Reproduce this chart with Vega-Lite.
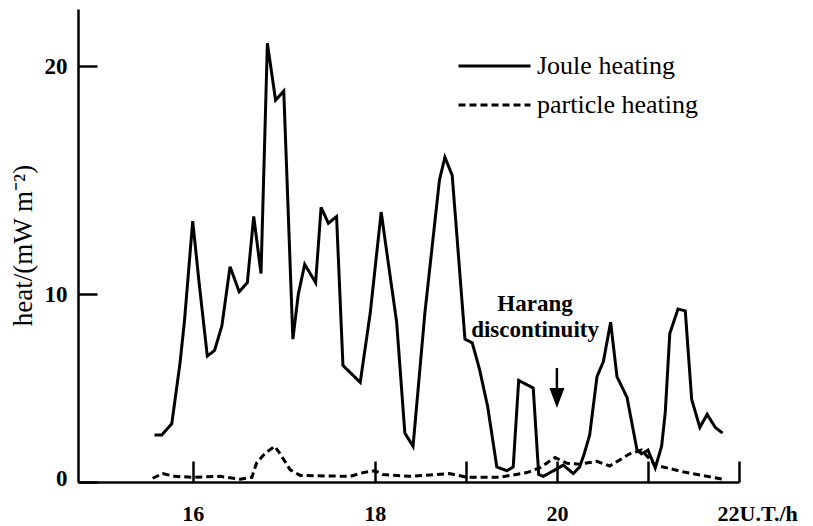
{
  "$schema": "https://vega.github.io/schema/vega-lite/v6.json",
  "width": 661,
  "height": 473,
  "autosize": {"type": "none"},
  "padding": {"left": 78, "top": 9, "right": 74, "bottom": 44},
  "background": "white",
  "config": {"view": {"stroke": null}, "font": "Liberation Serif"},
  "datasets": {
    "heating": [
      {"series": "Joule heating", "t": 15.58, "heat": 2.5},
      {"series": "Joule heating", "t": 15.66, "heat": 2.5},
      {"series": "Joule heating", "t": 15.77, "heat": 3.1},
      {"series": "Joule heating", "t": 15.86, "heat": 6.3},
      {"series": "Joule heating", "t": 15.91, "heat": 8.6},
      {"series": "Joule heating", "t": 16.0, "heat": 13.2},
      {"series": "Joule heating", "t": 16.07, "heat": 10.5},
      {"series": "Joule heating", "t": 16.16, "heat": 6.7},
      {"series": "Joule heating", "t": 16.24, "heat": 7.0},
      {"series": "Joule heating", "t": 16.32, "heat": 8.3},
      {"series": "Joule heating", "t": 16.41, "heat": 11.2},
      {"series": "Joule heating", "t": 16.51, "heat": 10.1},
      {"series": "Joule heating", "t": 16.6, "heat": 10.5},
      {"series": "Joule heating", "t": 16.67, "heat": 13.4},
      {"series": "Joule heating", "t": 16.75, "heat": 10.9},
      {"series": "Joule heating", "t": 16.82, "heat": 21.0},
      {"series": "Joule heating", "t": 16.91, "heat": 18.5},
      {"series": "Joule heating", "t": 17.0, "heat": 18.9},
      {"series": "Joule heating", "t": 17.1, "heat": 7.6},
      {"series": "Joule heating", "t": 17.16, "heat": 10.0},
      {"series": "Joule heating", "t": 17.23, "heat": 11.3},
      {"series": "Joule heating", "t": 17.35, "heat": 10.5},
      {"series": "Joule heating", "t": 17.41, "heat": 13.8},
      {"series": "Joule heating", "t": 17.49, "heat": 13.1},
      {"series": "Joule heating", "t": 17.58, "heat": 13.4},
      {"series": "Joule heating", "t": 17.65, "heat": 6.2},
      {"series": "Joule heating", "t": 17.84, "heat": 5.3},
      {"series": "Joule heating", "t": 17.95, "heat": 9.0},
      {"series": "Joule heating", "t": 18.07, "heat": 13.6},
      {"series": "Joule heating", "t": 18.15, "heat": 11.3},
      {"series": "Joule heating", "t": 18.24, "heat": 8.5},
      {"series": "Joule heating", "t": 18.33, "heat": 2.6},
      {"series": "Joule heating", "t": 18.42, "heat": 1.9},
      {"series": "Joule heating", "t": 18.55, "heat": 9.0},
      {"series": "Joule heating", "t": 18.71, "heat": 15.0},
      {"series": "Joule heating", "t": 18.77, "heat": 16.0},
      {"series": "Joule heating", "t": 18.85, "heat": 15.2},
      {"series": "Joule heating", "t": 18.99, "heat": 7.6},
      {"series": "Joule heating", "t": 19.07, "heat": 7.4},
      {"series": "Joule heating", "t": 19.15, "heat": 6.0},
      {"series": "Joule heating", "t": 19.24, "heat": 4.0},
      {"series": "Joule heating", "t": 19.34, "heat": 0.8},
      {"series": "Joule heating", "t": 19.45, "heat": 0.6},
      {"series": "Joule heating", "t": 19.52, "heat": 0.8},
      {"series": "Joule heating", "t": 19.58, "heat": 5.4},
      {"series": "Joule heating", "t": 19.74, "heat": 5.0},
      {"series": "Joule heating", "t": 19.8, "heat": 0.4},
      {"series": "Joule heating", "t": 19.85, "heat": 0.3},
      {"series": "Joule heating", "t": 20.0, "heat": 0.7},
      {"series": "Joule heating", "t": 20.07, "heat": 0.9},
      {"series": "Joule heating", "t": 20.18, "heat": 0.45},
      {"series": "Joule heating", "t": 20.25, "heat": 0.8},
      {"series": "Joule heating", "t": 20.3, "heat": 1.5},
      {"series": "Joule heating", "t": 20.36, "heat": 2.5},
      {"series": "Joule heating", "t": 20.44, "heat": 5.6},
      {"series": "Joule heating", "t": 20.51, "heat": 6.4},
      {"series": "Joule heating", "t": 20.59, "heat": 8.5},
      {"series": "Joule heating", "t": 20.66, "heat": 5.6},
      {"series": "Joule heating", "t": 20.77, "heat": 4.5},
      {"series": "Joule heating", "t": 20.88, "heat": 1.7},
      {"series": "Joule heating", "t": 20.93, "heat": 1.5},
      {"series": "Joule heating", "t": 21.0, "heat": 1.7},
      {"series": "Joule heating", "t": 21.08, "heat": 0.75},
      {"series": "Joule heating", "t": 21.15, "heat": 1.9},
      {"series": "Joule heating", "t": 21.19, "heat": 3.7},
      {"series": "Joule heating", "t": 21.24, "heat": 7.9},
      {"series": "Joule heating", "t": 21.33, "heat": 9.2},
      {"series": "Joule heating", "t": 21.41, "heat": 9.1},
      {"series": "Joule heating", "t": 21.48, "heat": 4.4},
      {"series": "Joule heating", "t": 21.57, "heat": 2.9},
      {"series": "Joule heating", "t": 21.65, "heat": 3.6},
      {"series": "Joule heating", "t": 21.74, "heat": 2.9},
      {"series": "Joule heating", "t": 21.82, "heat": 2.6},
      {"series": "particle heating", "t": 15.56, "heat": 0.2},
      {"series": "particle heating", "t": 15.67, "heat": 0.45},
      {"series": "particle heating", "t": 15.8, "heat": 0.3},
      {"series": "particle heating", "t": 16.0, "heat": 0.25},
      {"series": "particle heating", "t": 16.3, "heat": 0.3},
      {"series": "particle heating", "t": 16.52, "heat": 0.15},
      {"series": "particle heating", "t": 16.65, "heat": 0.25},
      {"series": "particle heating", "t": 16.7, "heat": 1.0},
      {"series": "particle heating", "t": 16.79, "heat": 1.5},
      {"series": "particle heating", "t": 16.9, "heat": 1.9},
      {"series": "particle heating", "t": 16.96, "heat": 1.5},
      {"series": "particle heating", "t": 17.07, "heat": 0.65},
      {"series": "particle heating", "t": 17.18, "heat": 0.35},
      {"series": "particle heating", "t": 17.73, "heat": 0.3},
      {"series": "particle heating", "t": 17.87, "heat": 0.5},
      {"series": "particle heating", "t": 18.0, "heat": 0.6},
      {"series": "particle heating", "t": 18.09, "heat": 0.4},
      {"series": "particle heating", "t": 18.38, "heat": 0.3},
      {"series": "particle heating", "t": 18.82, "heat": 0.45},
      {"series": "particle heating", "t": 19.01, "heat": 0.25},
      {"series": "particle heating", "t": 19.37, "heat": 0.25},
      {"series": "particle heating", "t": 19.67, "heat": 0.5},
      {"series": "particle heating", "t": 19.81, "heat": 0.75},
      {"series": "particle heating", "t": 19.98, "heat": 1.3},
      {"series": "particle heating", "t": 20.11, "heat": 1.0},
      {"series": "particle heating", "t": 20.25, "heat": 0.95},
      {"series": "particle heating", "t": 20.44, "heat": 1.1},
      {"series": "particle heating", "t": 20.58, "heat": 0.85},
      {"series": "particle heating", "t": 20.8, "heat": 1.5},
      {"series": "particle heating", "t": 20.93, "heat": 1.7},
      {"series": "particle heating", "t": 21.08, "heat": 0.9},
      {"series": "particle heating", "t": 21.38, "heat": 0.55},
      {"series": "particle heating", "t": 21.82, "heat": 0.15}
    ],
    "notes": [
      {"t": 19.76, "heat": 9.1, "text": "Harang"},
      {"t": 19.76, "heat": 7.72, "text": "discontinuity"}
    ],
    "arrow": [
      {"t": 20.0, "from": 6.06, "to": 4.47}
    ]
  },
  "layer": [
    {
      "data": {"name": "heating"},
      "mark": {"type": "line", "color": "black", "strokeWidth": 3},
      "encoding": {
        "x": {
          "field": "t",
          "type": "quantitative",
          "scale": {"domain": [14.74, 22], "nice": false, "zero": false},
          "axis": {
            "values": [16, 18, 19, 20, 21, 22],
            "format": "d",
            "title": null,
            "grid": false,
            "domainColor": "black",
            "domainWidth": 2.5,
            "tickColor": "black",
            "tickWidth": 2.5,
            "tickSize": -21,
            "labelExpr": "datum.value == 22 ? '22U.T./h' : (datum.value == 19 || datum.value == 21 ? '' : datum.label)",
            "labelFont": "Liberation Serif",
            "labelFontWeight": "bold",
            "labelFontSize": 22,
            "labelColor": "black",
            "labelPadding": 42,
            "labelFlush": false,
            "labelOverlap": false,
            "labelAlign": {"condition": {"test": "datum.value == 22", "value": "left"}, "value": "center"},
            "labelOffset": {"condition": {"test": "datum.value == 22", "value": -22}, "value": 0}
          }
        },
        "y": {
          "field": "heat",
          "type": "quantitative",
          "scale": {"domain": [0, 10, 20, 22.5], "range": [473, 285, 57, 0], "nice": false, "zero": false},
          "axis": {
            "values": [0, 10, 20],
            "format": "d",
            "title": "heat/(mW m⁻²)",
            "titleFont": "Liberation Serif",
            "titleFontSize": 27,
            "titleFontWeight": "normal",
            "titleColor": "black",
            "titleX": -47,
            "titleY": 236,
            "titleAngle": -90,
            "titleAlign": "center",
            "titleBaseline": "alphabetic",
            "grid": false,
            "domainColor": "black",
            "domainWidth": 2.5,
            "tickColor": "black",
            "tickWidth": 2.5,
            "tickSize": -19,
            "labelFont": "Liberation Serif",
            "labelFontWeight": "bold",
            "labelFontSize": 23,
            "labelColor": "black",
            "labelPadding": 30,
            "labelOffset": {"condition": {"test": "datum.value == 0", "value": -4}, "value": 0}
          }
        },
        "strokeDash": {
          "field": "series",
          "type": "nominal",
          "scale": {"domain": ["Joule heating", "particle heating"], "range": [[1, 0], [7, 4]]},
          "legend": {
            "title": null,
            "orient": "none",
            "legendX": 379,
            "legendY": 47,
            "padding": 0,
            "symbolType": "stroke",
            "symbolSize": 5184,
            "symbolStrokeWidth": 3,
            "symbolStrokeColor": "black",
            "clipHeight": 20,
            "rowPadding": 13,
            "labelFont": "Liberation Serif",
            "labelFontSize": 26,
            "labelColor": "black",
            "labelOffset": 5,
            "labelLimit": 0
          }
        }
      }
    },
    {
      "data": {"name": "notes"},
      "mark": {"type": "text", "font": "Liberation Serif", "fontWeight": "bold", "fontSize": 23, "align": "center", "baseline": "alphabetic", "color": "black"},
      "encoding": {
        "x": {"field": "t", "type": "quantitative"},
        "y": {"field": "heat", "type": "quantitative"},
        "text": {"field": "text"}
      }
    },
    {
      "data": {"name": "arrow"},
      "mark": {"type": "rule", "color": "black", "strokeWidth": 2.5},
      "encoding": {
        "x": {"field": "t", "type": "quantitative"},
        "y": {"field": "from", "type": "quantitative"},
        "y2": {"field": "to"}
      }
    },
    {
      "data": {"name": "arrow"},
      "mark": {"type": "point", "shape": "M-0.75,-1L0.75,-1L0,1Z", "size": 400, "filled": true, "color": "black", "opacity": 1},
      "encoding": {
        "x": {"field": "t", "type": "quantitative"},
        "y": {"field": "to", "type": "quantitative"}
      }
    }
  ]
}
